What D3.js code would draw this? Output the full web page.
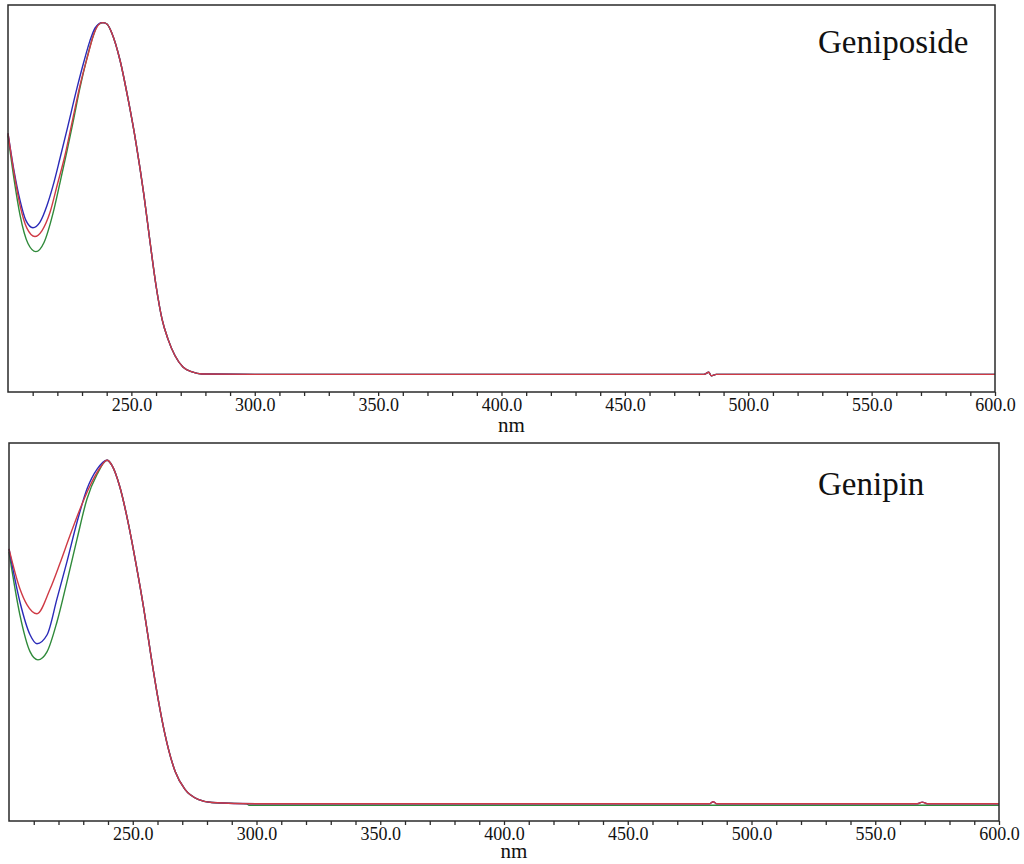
<!DOCTYPE html>
<html>
<head>
<meta charset="utf-8">
<script src="https://cdn.jsdelivr.net/npm/d3@7"></script>
<style>
  body { margin: 0; background: #fff; }
  svg { display: block; }
</style>
</head>
<body>
<svg id="chart" width="1024" height="864"></svg>
<script>
// Wavelength (nm) / absorbance (normalised to the 238 nm peak)
const minorTicks = d3.range(210, 601, 10);
const labelTicks = [250, 300, 350, 400, 450, 500, 550, 600];

// Geniposide - rising part, one per run
const geniposideBlue = [[200,0.685],[202.4,0.580],[204.9,0.494],[207.3,0.437],[210.1,0.417],[212.9,0.432],[215.8,0.480],[218.2,0.535],[221.1,0.615],[223.9,0.695],[228.0,0.815],[230.8,0.890],[233.2,0.948],[235.3,0.985],[238.1,1.0]];
const geniposideRed = [[200,0.685],[202.4,0.574],[204.9,0.480],[207.7,0.415],[210.9,0.392],[213.8,0.409],[217.0,0.460],[219.9,0.537],[223.1,0.623],[226.3,0.728],[229.2,0.822],[232.4,0.908],[234.9,0.970],[238.1,1.0]];
const geniposideGreen = [[200,0.679],[202.4,0.557],[204.9,0.452],[208.1,0.372],[211.3,0.349],[214.6,0.375],[218.2,0.457],[221.1,0.546],[223.9,0.635],[226.3,0.715],[229.2,0.816],[232.0,0.899],[234.4,0.959],[236.5,0.994],[238.9,1.0]];
// Geniposide - shared fall and baseline
const geniposideTail = [[240.1,0.996],[242.1,0.970],[245.4,0.893],[248.6,0.785],[251.9,0.657],[255.1,0.509],[257.5,0.380],[260.0,0.252],[262.4,0.158],[264.8,0.101],[267.7,0.053],[270.9,0.021],[274.6,0.007],[278.6,0.001],[300,0],[350,0],[400,0],[450,0],[482,0],[484,0.006],[485,-0.004],[487,0],[550,0],[600,0]];

// Genipin - rising part, one per run
const genipinBlue = [[200,0.742],[204.4,0.588],[208.5,0.492],[211.3,0.466],[215.4,0.492],[219.4,0.597],[223.4,0.704],[227.5,0.820],[231.5,0.916],[235.6,0.974],[239.6,1.0]];
const genipinRed = [[200,0.742],[204.4,0.626],[207.3,0.579],[211.3,0.553],[216.6,0.625],[220.6,0.700],[224.6,0.780],[228.7,0.858],[232.7,0.925],[236.8,0.978],[239.6,1.0]];
const genipinGreen = [[200,0.733],[204.4,0.550],[208.5,0.443],[211.7,0.419],[215.4,0.443],[219.4,0.530],[223.4,0.646],[227.5,0.771],[231.5,0.887],[235.6,0.959],[239.6,1.0]];
// Genipin - shared fall and baseline
const genipinFall = [[241.6,0.985],[244.8,0.922],[248.1,0.820],[251.3,0.699],[254.5,0.566],[257.4,0.429],[260.2,0.307],[263.0,0.203],[267.1,0.095],[271.1,0.042],[276.4,0.013],[282.0,0.004]];
const genipinBase = [[300,0],[350,0],[400,0],[450,0],[483,0],[484.5,0.006],[486,0],[567,0],[569,0.005],[571,0],[600,0]];
const genipinGreenBase = [[296,0],[297,-0.004],[400,-0.004],[500,-0.004],[600,-0.004]];

const colors = { green: '#2f8a3a', blue: '#2a2ab8', red: '#cf3a45' };

const panels = [
  {
    title: 'Geniposide',
    frame: { x0: 8, x1: 995, y0: 5, y1: 392 },
    titlePos: [818, 53],
    unitOffset: 40,
    series: [
      { color: colors.green, values: geniposideGreen.concat(geniposideTail) },
      { color: colors.blue, values: geniposideBlue.concat(geniposideTail) },
      { color: colors.red, values: geniposideRed.concat(geniposideTail) }
    ]
  },
  {
    title: 'Genipin',
    frame: { x0: 9, x1: 999, y0: 443, y1: 821 },
    titlePos: [818, 495],
    unitOffset: 37,
    series: [
      { color: colors.green, values: genipinGreen.concat(genipinFall, genipinGreenBase) },
      { color: colors.blue, values: genipinBlue.concat(genipinFall, genipinBase) },
      { color: colors.red, values: genipinRed.concat(genipinFall, genipinBase) }
    ]
  }
];

const svg = d3.select('#chart');
const serif = '"Liberation Serif", "Times New Roman", serif';

panels.forEach(p => {
  const { x0, x1, y0, y1 } = p.frame;
  const x = d3.scaleLinear().domain([200, 600]).range([x0, x1]);
  const y = d3.scaleLinear().domain([-0.05, 1.05]).range([y1, y0]);

  const g = svg.append('g');

  // Curves
  const line = d3.line().x(d => x(d[0])).y(d => y(d[1])).curve(d3.curveMonotoneX);
  g.selectAll('path.curve')
    .data(p.series)
    .enter()
    .append('path')
    .attr('class', 'curve')
    .attr('fill', 'none')
    .attr('stroke', d => d.color)
    .attr('stroke-width', 1.4)
    .attr('d', d => line(d.values));

  // Frame
  g.append('rect')
    .attr('x', x0)
    .attr('y', y0)
    .attr('width', x1 - x0)
    .attr('height', y1 - y0)
    .attr('fill', 'none')
    .attr('stroke', '#2a2a2a')
    .attr('stroke-width', 1.5);

  // Bottom axis: minor ticks every 10 nm, labels every 50 nm
  const axis = d3.axisBottom(x)
    .tickValues(minorTicks)
    .tickSize(4)
    .tickFormat(d => labelTicks.includes(d) ? d.toFixed(1) : '');
  const ax = g.append('g')
    .attr('transform', `translate(0,${y1})`)
    .call(axis)
    .attr('font-family', serif)
    .attr('font-size', 18);
  ax.select('.domain').remove();
  ax.selectAll('.tick line').attr('stroke', '#2a2a2a').attr('stroke-width', 1.3);
  ax.selectAll('.tick text')
    .attr('y', 6)
    .attr('fill', '#111')
    .style('font-family', serif)
    .style('font-size', '18px');

  // Axis unit
  g.append('text')
    .attr('x', (x0 + x1) / 2 + 10)
    .attr('y', y1 + p.unitOffset)
    .attr('text-anchor', 'middle')
    .attr('fill', '#111')
    .style('font-family', serif)
    .style('font-size', '21px')
    .text('nm');

  // Compound name
  g.append('text')
    .attr('x', p.titlePos[0])
    .attr('y', p.titlePos[1])
    .attr('fill', '#111')
    .style('font-family', serif)
    .style('font-size', '33px')
    .text(p.title);
});
</script>
</body>
</html>
